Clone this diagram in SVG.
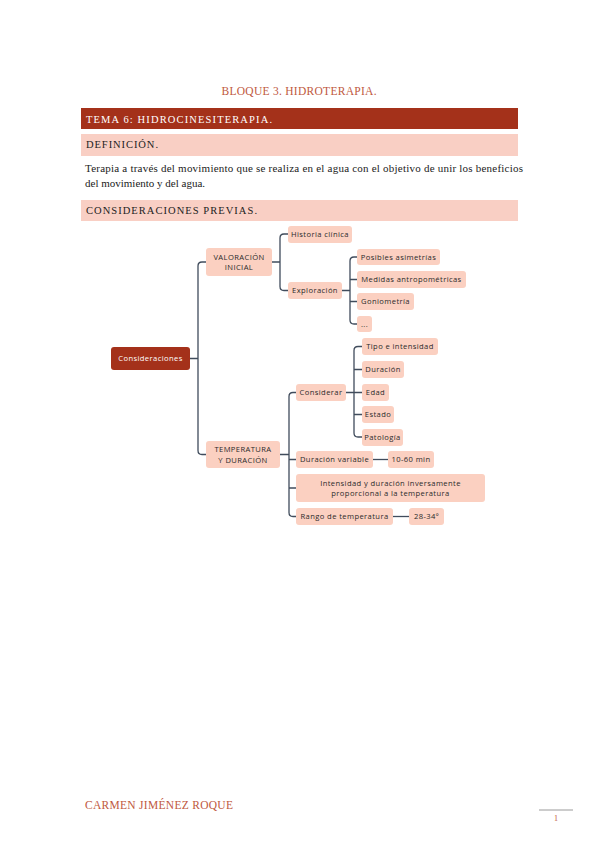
<svg xmlns="http://www.w3.org/2000/svg" width="599" height="848" viewBox="0 0 599 848">
<style>
.serif{font-family:"Liberation Serif","Times New Roman",serif}
.hd{fill:#c0583e;font-size:11.5px}
.band-dark{fill:#a4311a}
.band-light{fill:#f9cfc4}
.bandtxt{font-size:10.5px}
.para{font-size:11px;fill:#222}
.node rect{fill:#fbd0c1}
.node text{font-family:"Open Sans","DejaVu Sans",sans-serif;font-size:7.6px;letter-spacing:0.4px;fill:#2a2a2a;text-anchor:middle}
#n-root rect{fill:#a4311a}
#n-root text{fill:#fff}
#connectors path{fill:none;stroke:#404c5c;stroke-width:1.3}
</style>
<rect width="599" height="848" fill="#fff"/>

<!-- header -->
<text class="serif hd" x="299" y="95" text-anchor="middle" textLength="155" lengthAdjust="spacing">BLOQUE 3. HIDROTERAPIA.</text>
<rect class="band-dark" x="81" y="108" width="437" height="21"/>
<text class="serif bandtxt" x="86" y="123" fill="#fff" textLength="186" lengthAdjust="spacing">TEMA 6: HIDROCINESITERAPIA.</text>
<rect class="band-light" x="81" y="134" width="437" height="22"/>
<text class="serif bandtxt" x="86" y="148" fill="#222" textLength="72" lengthAdjust="spacing">DEFINICIÓN.</text>
<text class="serif para" x="85" y="172" textLength="438" lengthAdjust="spacing">Terapia a través del movimiento que se realiza en el agua con el objetivo de unir los beneficios</text>
<text class="serif para" x="85" y="187">del movimiento y del agua.</text>
<rect class="band-light" x="81" y="200" width="437" height="21"/>
<text class="serif bandtxt" x="86" y="214" fill="#222" textLength="171" lengthAdjust="spacing">CONSIDERACIONES PREVIAS.</text>

<!-- connectors -->
<g id="connectors">
<path d="M190,358.5 H198 M206,262 H202 Q198,262 198,266 V450.5 Q198,454.5 202,454.5 H206"/>
<path d="M272,262 H280 M288,234 H284 Q280,234 280,238 V286.5 Q280,290.5 284,290.5 H288"/>
<path d="M342,290.5 H350 M357,257 H354 Q350,257 350,261 V320 Q350,324 354,324 H357 M350,279.5 H357 M350,301.5 H357"/>
<path d="M280,454.5 H289 M296,392.5 H293 Q289,392.5 289,396.5 V512.5 Q289,516.5 293,516.5 H296 M289,459.5 H296 M289,488 H296"/>
<path d="M346,392.5 H362 M362,346.5 H358 Q354,346.5 354,350.5 V433 Q354,437 358,437 H362 M354,369.5 H362 M354,414.5 H362"/>
<path d="M373,459.5 H388"/>
<path d="M393,516.5 H409"/>
</g>

<!-- nodes -->
<g id="n-root" class="node"><rect x="111" y="347" width="79" height="23" rx="3"/><text x="150.5" y="361.3">Consideraciones</text></g>
<g id="n-valoracion" class="node"><rect x="206" y="248" width="66" height="28" rx="3"/><text x="239" y="259.8">VALORACIÓN</text><text x="239" y="270.3">INICIAL</text></g>
<g id="n-historia" class="node"><rect x="288" y="226" width="64" height="17" rx="3"/><text x="320" y="237">Historia clínica</text></g>
<g id="n-exploracion" class="node"><rect x="288" y="282" width="54" height="17" rx="3"/><text x="315" y="293.2">Exploración</text></g>
<g id="n-asimetrias" class="node"><rect x="357" y="249" width="83" height="16" rx="3"/><text x="398.5" y="259.7">Posibles asimetrías</text></g>
<g id="n-medidas" class="node"><rect x="357" y="271" width="109" height="17" rx="3"/><text x="411.5" y="282.2">Medidas antropométricas</text></g>
<g id="n-goniometria" class="node"><rect x="357" y="293" width="57" height="17" rx="3"/><text x="385.5" y="304.2">Goniometría</text></g>
<g id="n-etc" class="node"><rect x="357" y="316" width="15" height="16" rx="3"/><text x="364.5" y="326.7">...</text></g>
<g id="n-temperatura" class="node"><rect x="206" y="441" width="74" height="27" rx="3"/><text x="243" y="452.3">TEMPERATURA</text><text x="243" y="462.8">Y DURACIÓN</text></g>
<g id="n-considerar" class="node"><rect x="296" y="384" width="50" height="17" rx="3"/><text x="321" y="395.2">Considerar</text></g>
<g id="n-tipo" class="node"><rect x="362" y="338" width="76" height="17" rx="3"/><text x="400" y="349.2">Tipo e intensidad</text></g>
<g id="n-duracion" class="node"><rect x="362" y="361" width="42" height="17" rx="3"/><text x="383" y="372.2">Duración</text></g>
<g id="n-edad" class="node"><rect x="362" y="384" width="27" height="17" rx="3"/><text x="375.5" y="395.2">Edad</text></g>
<g id="n-estado" class="node"><rect x="362" y="406" width="32" height="17" rx="3"/><text x="378" y="417.2">Estado</text></g>
<g id="n-patologia" class="node"><rect x="362" y="429" width="41" height="17" rx="3"/><text x="382.5" y="440.2">Patología</text></g>
<g id="n-durvar" class="node"><rect x="296" y="451" width="77" height="17" rx="3"/><text x="334.5" y="462.2">Duración variable</text></g>
<g id="n-1060" class="node"><rect x="388" y="451" width="46" height="17" rx="3"/><text x="411" y="462.2">10-60 min</text></g>
<g id="n-intensidad" class="node"><rect x="296" y="474" width="189" height="28" rx="3"/><text x="390.5" y="485.8">Intensidad y duración inversamente</text><text x="390.5" y="496.3">proporcional a la temperatura</text></g>
<g id="n-rango" class="node"><rect x="296" y="508" width="97" height="17" rx="3"/><text x="344.5" y="519.2">Rango de temperatura</text></g>
<g id="n-2834" class="node"><rect x="409" y="508" width="35" height="17" rx="3"/><text x="426.5" y="519.2">28-34º</text></g>

<!-- footer -->
<text class="serif hd" x="85" y="809" font-size="11" textLength="148" lengthAdjust="spacing">CARMEN JIMÉNEZ ROQUE</text>
<line x1="539" y1="810" x2="573" y2="810" stroke="#9a9a9a" stroke-width="1"/>
<text class="serif" x="556" y="821" font-size="8" fill="#c0583e" text-anchor="middle">1</text>
</svg>
